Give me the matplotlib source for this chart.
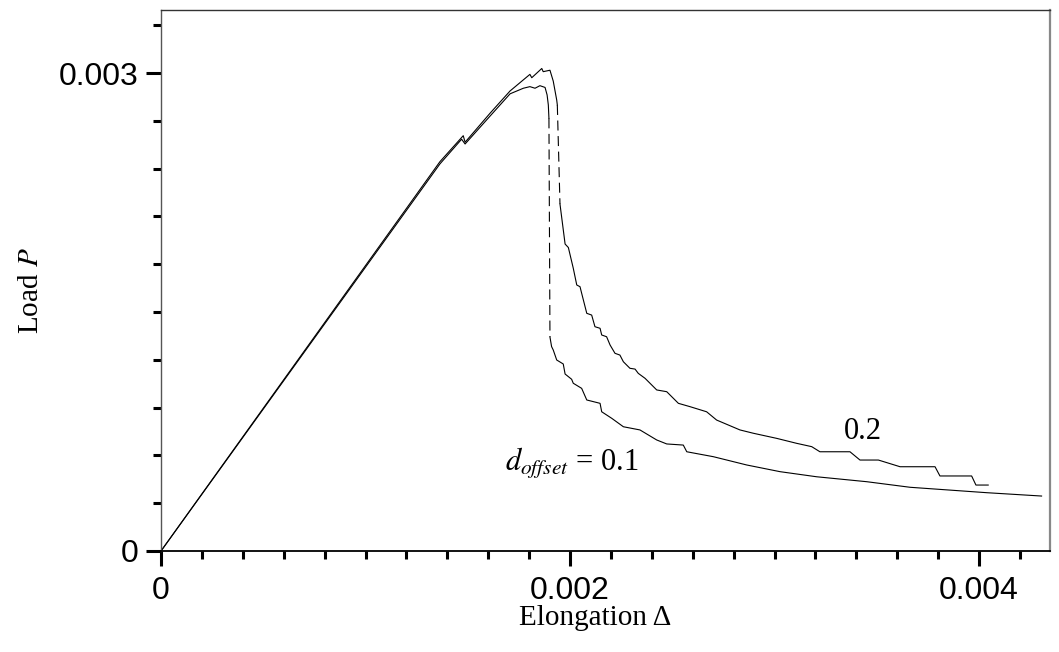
import numpy as np
import matplotlib
matplotlib.use('Agg')
from matplotlib import pyplot as plt
from matplotlib.ticker import MultipleLocator

# values in units of 1e-3
# d_offset = 0.2 : rising branch up to the peak, then the softening tail
x_b_up = [0, 1.364, 1.478, 1.487, 1.609, 1.707, 1.804, 1.813, 1.862, 1.869, 1.902, 1.918, 1.935, 1.938]
y_b_up = [0, 2.444, 2.607, 2.566, 2.748, 2.888, 2.992, 2.971, 3.029, 3.009, 3.018, 2.950, 2.831, 2.800]
x_b_tail = [1.951, 1.976, 1.992, 2.016, 2.033, 2.049, 2.057, 2.082, 2.106, 2.122, 2.147, 2.155,
            2.179, 2.196, 2.220, 2.244, 2.261, 2.293, 2.318, 2.334, 2.367, 2.424, 2.473, 2.530,
            2.587, 2.668, 2.717, 2.831, 2.897, 3.011, 3.108, 3.182, 3.222, 3.369, 3.418, 3.508,
            3.614, 3.785, 3.809, 3.964, 3.985, 4.045]
y_b_tail = [2.178, 1.927, 1.905, 1.775, 1.670, 1.659, 1.618, 1.492, 1.481, 1.408, 1.398, 1.356,
            1.345, 1.293, 1.241, 1.230, 1.188, 1.147, 1.142, 1.115, 1.084, 1.011, 1.000, 0.927,
            0.906, 0.874, 0.822, 0.760, 0.739, 0.707, 0.676, 0.655, 0.623, 0.623, 0.571, 0.571,
            0.529, 0.529, 0.471, 0.471, 0.414, 0.414]

# d_offset = 0.1
x_a_up = [0, 1.364, 1.470, 1.487, 1.609, 1.707, 1.772, 1.804, 1.829, 1.853, 1.878, 1.888, 1.894, 1.897]
y_a_up = [0, 2.430, 2.585, 2.555, 2.730, 2.870, 2.905, 2.915, 2.905, 2.921, 2.910, 2.863, 2.800, 2.716]
x_a_tail = [1.902, 1.910, 1.918, 1.935, 1.967, 1.976, 2.008, 2.016, 2.057, 2.082, 2.147, 2.155,
            2.204, 2.261, 2.342, 2.424, 2.473, 2.554, 2.571, 2.701, 2.864, 3.027, 3.206, 3.451,
            3.663, 4.038, 4.306]
y_a_tail = [1.343, 1.283, 1.262, 1.199, 1.174, 1.111, 1.078, 1.053, 1.021, 0.948, 0.927, 0.874,
            0.833, 0.780, 0.760, 0.697, 0.672, 0.665, 0.623, 0.592, 0.540, 0.498, 0.466, 0.435,
            0.400, 0.366, 0.345]

scale = 1e-3

plt.rcParams['mathtext.fontset'] = 'stix'

fig = plt.figure(figsize=(10.59, 6.52), dpi=100)
ax = fig.add_axes([161 / 1059, 1 - 551 / 652, (1050 - 161) / 1059, (551 - 10) / 652])

for xu, yu, xt, yt in [(x_a_up, y_a_up, x_a_tail, y_a_tail),
                       (x_b_up, y_b_up, x_b_tail, y_b_tail)]:
    xu = np.array(xu) * scale
    yu = np.array(yu) * scale
    xt = np.array(xt) * scale
    yt = np.array(yt) * scale
    ax.plot(xu, yu, color='black', lw=0.8)
    ax.plot(xt, yt, color='black', lw=0.8)
    # sudden drop drawn dashed
    ax.plot([xu[-1], xt[0]], [yu[-1], yt[0]], color='black', lw=0.8, linestyle=(0, (9, 5)))

ax.set_xlim(0, (1050 - 161) / 204.5 * scale)
ax.set_ylim(0, (551 - 10) / 159.3 * scale)

ax.xaxis.set_major_locator(MultipleLocator(0.002))
ax.xaxis.set_minor_locator(MultipleLocator(0.0002))
ax.yaxis.set_major_locator(MultipleLocator(0.003))
ax.yaxis.set_minor_locator(MultipleLocator(0.0003))
ax.xaxis.set_major_formatter(lambda v, p: '0' if v == 0 else f'{v:.3f}')
ax.yaxis.set_major_formatter(lambda v, p: '0' if v == 0 else f'{v:.3f}')

ax.tick_params(which='major', direction='out', length=11, width=2.2, color='black',
               labelsize=23, pad=5)
ax.tick_params(axis='x', which='major', pad=7)
ax.tick_params(which='minor', direction='out', length=5.5, width=2.2, color='black')
for lab in ax.get_xticklabels() + ax.get_yticklabels():
    lab.set_fontfamily('Liberation Sans')

ax.spines['bottom'].set_linewidth(1.3)
ax.spines['left'].set_linewidth(1.0)
ax.spines['left'].set_color('#555555')
ax.spines['top'].set_linewidth(1.0)
ax.spines['top'].set_color('#333333')
ax.spines['right'].set_linewidth(1.6)
ax.spines['right'].set_color('#888888')

ax.set_xlabel('Elongation Δ', fontsize=21, family='Liberation Serif')
ax.set_ylabel('Load $P$', fontsize=21, family='Liberation Serif')
ax.xaxis.set_label_coords(0.488, -0.1)
ax.yaxis.set_label_coords(-0.132, 0.482)

ax.text(3.433 * scale, 0.753 * scale, '0.2', fontsize=22, family='Liberation Serif',
        ha='center', va='center')
ax.text(1.682 * scale, 0.502 * scale, '$d_{offset}$ = 0.1', fontsize=22,
        family='Liberation Serif', ha='left', va='baseline')

fig.savefig('out.png', dpi=100)
